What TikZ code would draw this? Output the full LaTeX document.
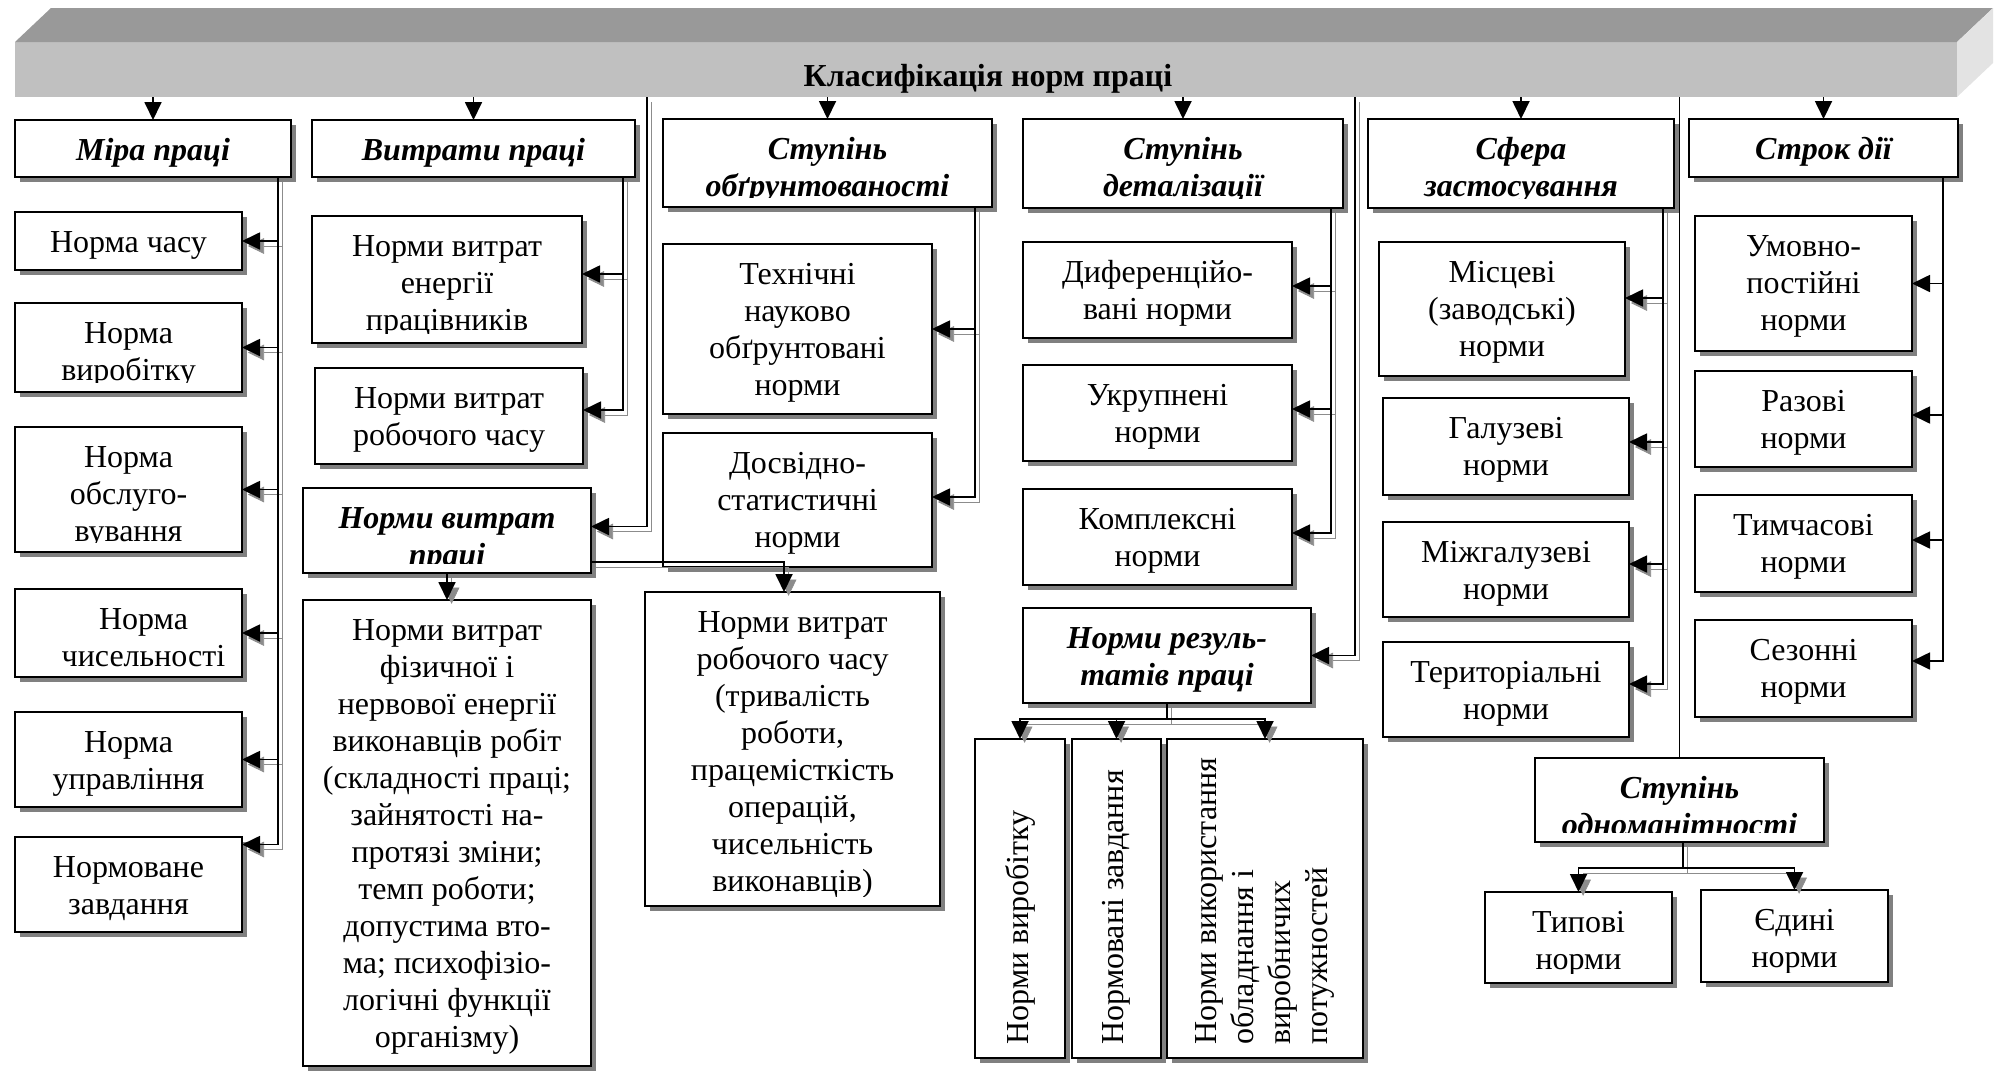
\documentclass[tikz,border=0pt]{standalone}
\usepackage{fontspec}
\setmainfont{Liberation Serif}
\usetikzlibrary{arrows.meta,shadows}

\definecolor{boxshade}{HTML}{808080}
\definecolor{lineshade}{HTML}{8C8C8C}
\definecolor{bannertop}{HTML}{999999}
\definecolor{bannerfront}{HTML}{C0C0C0}
\definecolor{bannerside}{HTML}{E3E3E3}

% invisible strut that fixes the height of the first text line
\newcommand\firstline{\rule{0pt}{14pt}}

\tikzset{
  frame/.style={draw, line width=1pt, fill=white, rectangle, inner sep=0pt,
    outer sep=0pt, anchor=north west,
    general shadow={fill=boxshade, shadow xshift=2.5pt, shadow yshift=-2.5pt}},
  words/.style={inner sep=0pt, anchor=north, align=center,
    font=\fontsize{16}{18.5}\selectfont},
  heading/.style={font=\fontsize{16}{18.5}\selectfont\bfseries\itshape},
  link/.style={line width=0.9pt},
  shaded/.style={preaction={draw=lineshade,
    transform canvas={shift={(2.3pt,-2.5pt)}}}},
  tip/.style={-{Triangle[length=9pt,width=8.5pt]}},
}

% framed text box: name, x1, y1, x2, y2, text style, text shift, text
\newcommand\cell[8]{%
  \node[frame, minimum width={(#4-#2)*0.5pt}, minimum height={(#5-#3)*0.5pt}]
    (#1) at (#2,#3) {};
  \begin{scope}
    \clip (#2,#3) rectangle (#4,#5-10);
    \node[words,#6] at ([xshift=#7,yshift=-6pt]#1.north) {\firstline#8};
  \end{scope}}

% framed box with text running upwards: name, x1, y1, x2, y2, text
\newcommand\tallcell[6]{%
  \node[frame, minimum width={(#4-#2)*0.5pt}, minimum height={(#5-#3)*0.5pt}]
    (#1) at (#2,#3) {};
  \node[words, anchor=west, rotate=90, align=left]
    at ([yshift=6.5pt]#1.south) {#6};}

\begin{document}
\begin{tikzpicture}[x=0.5pt, y=-0.5pt]
\useasboundingbox (0,0) rectangle (2000,1072);

% ---- 3D title bar ----
\node[fill=bannerfront, inner sep=0pt, outer sep=0pt, anchor=north west,
  minimum width={(1957-15)*0.5pt}, minimum height={(97-42)*0.5pt}]
  (banner) at (15,42) {};
\fill[bannertop] (15,42) -- (51,8) -- (1993,8) -- (1957,42) -- cycle;
\fill[bannerside] (1957,42) -- (1993,8) -- (1993,63) -- (1957,97) -- cycle;
\node[font=\fontsize{16}{18}\selectfont\bfseries, anchor=base, inner sep=0pt]
  (title) at (988,86) {Класифікація норм праці};

% ---- headings ----
\cell{h1}{15}{120}{291}{177}{heading}{0pt}{Міра праці}
\cell{h2}{312}{120}{635}{177}{heading}{0pt}{Витрати праці}
\cell{h3}{663}{119}{992}{207}{heading}{0pt}{Ступінь\\обґрунтованості}
\cell{h4}{1023}{119}{1343}{208}{heading}{0pt}{Ступінь\\деталізації}
\cell{h5}{1368}{119}{1674}{208}{heading}{0pt}{Сфера\\застосування}
\cell{h6}{1689}{119}{1958}{177}{heading}{0pt}{Строк дії}

% ---- measure of labour ----
\cell{c11}{15}{212}{242}{270}{}{0pt}{Норма часу}
\cell{c12}{15}{303}{242}{392}{}{0pt}{Норма\\виробітку}
\cell{c13}{15}{427}{242}{552}{}{0pt}{Норма\\обслуго-\\вування}
\cell{c14}{15}{589}{242}{677}{}{7.5pt}{Норма\\чисельності}
\cell{c15}{15}{712}{242}{807}{}{0pt}{Норма\\управління}
\cell{c16}{15}{837}{242}{932}{}{0pt}{Нормоване\\завдання}

% ---- labour costs ----
\cell{c21}{312}{216}{582}{343}{}{0pt}{Норми витрат\\енергії\\працівників}
\cell{c22}{315}{368}{583}{464}{}{0pt}{Норми витрат\\робочого часу}
\cell{n}{303}{488}{591}{573}{heading}{0pt}{Норми витрат\\праці}
\cell{b1}{303}{600}{591}{1066}{}{0pt}{Норми витрат\\фізичної і\\нервової енергії\\виконавців робіт\\(складності праці;\\зайнятості на-\\протязі зміни;\\темп роботи;\\допустима вто-\\ма; психофізіо-\\логічні функції\\організму)}
\cell{b2}{645}{592}{940}{906}{}{0pt}{Норми витрат\\робочого часу\\(тривалість\\роботи,\\працемісткість\\операцій,\\чисельність\\виконавців)}

% ---- degree of substantiation ----
\cell{c31}{663}{244}{932}{414}{}{0pt}{Технічні\\науково\\обґрунтовані\\норми}
\cell{c32}{663}{433}{932}{567}{}{0pt}{Досвідно-\\статистичні\\норми}

% ---- degree of detail ----
\cell{c41}{1023}{242}{1292}{338}{}{0pt}{Диференційо-\\вані норми}
\cell{c42}{1023}{365}{1292}{461}{}{0pt}{Укрупнені\\норми}
\cell{c43}{1023}{489}{1292}{585}{}{0pt}{Комплексні\\норми}
\cell{r}{1023}{608}{1311}{703}{heading}{0pt}{Норми резуль-\\татів праці}
\tallcell{v1}{975}{739}{1065}{1058}{Норми виробітку}
\tallcell{v2}{1072}{739}{1161}{1058}{Нормовані завдання}
\tallcell{v3}{1167}{739}{1363}{1058}{Норми використання\\обладнання і\\виробничих\\потужностей}

% ---- field of application ----
\cell{c51}{1379}{242}{1625}{376}{}{0pt}{Місцеві\\(заводські)\\норми}
\cell{c52}{1383}{398}{1629}{495}{}{0pt}{Галузеві\\норми}
\cell{c53}{1383}{522}{1629}{617}{}{0pt}{Міжгалузеві\\норми}
\cell{c54}{1383}{642}{1629}{737}{}{0pt}{Територіальні\\норми}
\cell{s}{1535}{758}{1824}{842}{heading}{0pt}{Ступінь\\одноманітності}
\cell{t1}{1485}{892}{1672}{983}{}{0pt}{Типові\\норми}
\cell{t2}{1701}{890}{1888}{982}{}{0pt}{Єдині\\норми}

% ---- period of validity ----
\cell{c61}{1695}{216}{1912}{351}{}{0pt}{Умовно-\\постійні\\норми}
\cell{c62}{1695}{371}{1912}{467}{}{0pt}{Разові\\норми}
\cell{c63}{1695}{495}{1912}{592}{}{0pt}{Тимчасові\\норми}
\cell{c64}{1695}{620}{1912}{717}{}{0pt}{Сезонні\\норми}

% ---- trunk positions ----
\coordinate (x1) at (278,0);
\coordinate (x2) at (623,0);
\coordinate (x3) at (975,0);
\coordinate (x4) at (1331,0);
\coordinate (x5) at (1663,0);
\coordinate (x6) at (1943,0);
\coordinate (xa) at (647,0);
\coordinate (xb) at (1355,0);
\coordinate (m1) at (1167,719);
\coordinate (m2) at (1683,868);

% ---- title bar to headings ----
\foreach \h in {h1,h2,h3,h4,h5,h6}
  \draw[link,tip] (banner.south -| \h.north) -- (\h.north);

% ---- branches ----
\foreach \b in {c11,c12,c13,c14,c15}
  \draw[link,shaded,tip] (h1.south -| x1) |- (\b.east);
\draw[link,shaded,tip] (h1.south -| x1) |- ([yshift=20pt]c16.east);

\draw[link,shaded,tip] (h2.south -| x2) |- ([yshift=2.75pt]c21.east);
\draw[link,shaded,tip] (h2.south -| x2) |- ([yshift=3pt]c22.east);

\draw[link,shaded,tip] (banner.south -| xa) |- ([yshift=2pt]n.east);
\draw[link,shaded,tip] (n.south) -- (b1.north);
\draw[link,shaded,tip] ([yshift=-15.75pt]n.east) -| ([xshift=-4.25pt]b2.north);

\draw[link,shaded,tip] (h3.south -| x3) |- (c31.east);
\draw[link,shaded,tip] (h3.south -| x3) |- ([yshift=1.5pt]c32.east);

\foreach \b in {c41,c42,c43}
  \draw[link,shaded,tip] (h4.south -| x4) |- ([yshift=2pt]\b.east);
\draw[link,shaded,tip] (banner.south -| xb) |- (r.east);
\draw[link,shaded] (r.south -| m1) -- (m1);
\foreach \v in {v1,v2,v3}
  \draw[link,shaded,tip] (m1) -| (\v.north);

\draw[link,shaded,tip] (h5.south -| x5) |- ([yshift=5.5pt]c51.east);
\draw[link,shaded,tip] (h5.south -| x5) |- ([yshift=2.25pt]c52.east);
\draw[link,shaded,tip] (h5.south -| x5) |- ([yshift=2.75pt]c53.east);
\draw[link,shaded,tip] (h5.south -| x5) |- ([yshift=2.75pt]c54.east);
\draw[link] (banner.south -| s.north) -- (s.north);
\draw[link,shaded] (s.south -| m2) -- (m2);
\foreach \t in {t1,t2}
  \draw[link,shaded,tip] (m2) -| (\t.north);

\draw[link,tip] (h6.south -| x6) |- (c61.east);
\draw[link,tip] (h6.south -| x6) |- ([yshift=2pt]c62.east);
\draw[link,tip] (h6.south -| x6) |- ([yshift=1.75pt]c63.east);
\draw[link,tip] (h6.south -| x6) |- ([yshift=3.75pt]c64.east);
\end{tikzpicture}
\end{document}
